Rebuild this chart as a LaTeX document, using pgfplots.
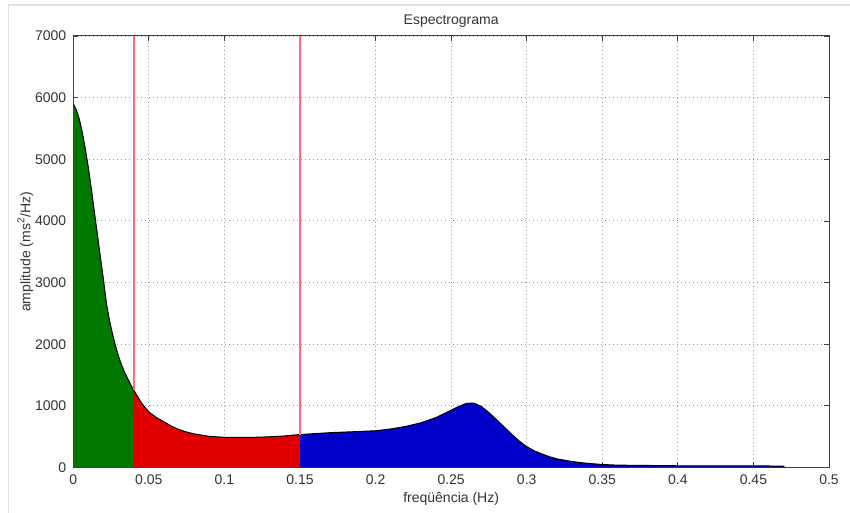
\documentclass[border=0pt]{standalone}
\usepackage{pgfplots}
\pgfplotsset{compat=1.18}
\usepackage{fontspec}
\setmainfont{Liberation Sans}
\definecolor{mgreen}{RGB}{0,120,0}
\definecolor{mred}{RGB}{224,0,0}
\definecolor{mblue}{RGB}{0,0,200}
\definecolor{bandline}{RGB}{255,110,110}
\definecolor{figframe}{RGB}{225,225,225}
\begin{document}
\begin{tikzpicture}
\useasboundingbox (-36.65pt,-22.75pt) rectangle (388.35pt,233.75pt);
\draw[figframe, line width=0.6pt] (-32.5pt,-22.75pt) -- (-32.5pt,231.25pt) -- (388.35pt,231.25pt);
\begin{axis}[
  at={(0,0)}, anchor=south west,
  scale only axis,
  width=377.85pt, height=215.75pt,
  xmin=0, xmax=0.5, ymin=0, ymax=7000,
  xtick={0,0.05,...,0.5}, ytick={0,1000,...,7000},
  xticklabels={0,0.05,0.1,0.15,0.2,0.25,0.3,0.35,0.4,0.45,0.5},
  scaled ticks=false,
  /pgf/number format/assume math mode=true,
  /pgf/number format/1000 sep={},
  tick align=inside, major tick length=2.5pt,
  tick style={black!75, line width=0.4pt},
  axis line style={black!75, line width=0.5pt},
  grid=major,
  major grid style={gray!80, dash pattern=on 0.5pt off 1.5pt, line width=0.45pt},
  font=\fontsize{7}{8}\selectfont,
  ticklabel style={font=\fontsize{7}{8}\selectfont, text=black!80},
  title={Espectrograma},
  title style={font=\fontsize{7}{8}\selectfont, yshift=-5pt, text=black!80},
  xlabel={freqüência (Hz)},
  ylabel={amplitude (ms\textsuperscript{2}/Hz)},
  xlabel style={font=\fontsize{7}{8}\selectfont, yshift=3pt, text=black!80},
  ylabel style={font=\fontsize{7}{8}\selectfont, yshift=-6pt, text=black!80},
  clip=true,
]
% green band
\addplot[fill=mgreen, draw=none] coordinates {
(0,5900) (0.002,5800) (0.004,5650) (0.006,5430) (0.008,5160) (0.010,4860)
(0.012,4510) (0.014,4140) (0.016,3770) (0.018,3400) (0.020,3040) (0.022,2650)
(0.024,2380) (0.026,2160) (0.028,1970) (0.030,1800) (0.032,1660) (0.034,1540)
(0.036,1440) (0.038,1340) (0.040,1256)
} \closedcycle;
% red band
\addplot[fill=mred, draw=none] coordinates {
(0.040,1256) (0.045,1050) (0.050,900) (0.055,810) (0.060,740) (0.065,670)
(0.070,615) (0.075,575) (0.080,545) (0.090,505) (0.100,490) (0.110,487)
(0.120,490) (0.130,498) (0.140,512) (0.150,535)
} \closedcycle;
% blue band
\addplot[fill=mblue, draw=none] coordinates {
(0.150,535) (0.160,550) (0.170,565) (0.180,575) (0.190,585) (0.200,596)
(0.210,625) (0.220,667) (0.230,725) (0.240,810) (0.250,930) (0.255,990)
(0.260,1040) (0.265,1045) (0.270,990) (0.275,890) (0.280,776) (0.285,660)
(0.290,540) (0.295,430) (0.300,339) (0.305,270) (0.310,220) (0.315,175)
(0.320,140) (0.330,97) (0.340,68) (0.350,49) (0.360,38) (0.380,33)
(0.400,28) (0.450,27) (0.470,22) (0.472,0)
} \closedcycle;
% outline
\addplot[black, line width=0.5pt] coordinates {
(0,5900) (0.002,5800) (0.004,5650) (0.006,5430) (0.008,5160) (0.010,4860)
(0.012,4510) (0.014,4140) (0.016,3770) (0.018,3400) (0.020,3040) (0.022,2650)
(0.024,2380) (0.026,2160) (0.028,1970) (0.030,1800) (0.032,1660) (0.034,1540)
(0.036,1440) (0.038,1340) (0.040,1256)
(0.045,1050) (0.050,900) (0.055,810) (0.060,740) (0.065,670)
(0.070,615) (0.075,575) (0.080,545) (0.090,505) (0.100,490) (0.110,487)
(0.120,490) (0.130,498) (0.140,512) (0.150,535)
(0.160,550) (0.170,565) (0.180,575) (0.190,585) (0.200,596)
(0.210,625) (0.220,667) (0.230,725) (0.240,810) (0.250,930) (0.255,990)
(0.260,1040) (0.265,1045) (0.270,990) (0.275,890) (0.280,776) (0.285,660)
(0.290,540) (0.295,430) (0.300,339) (0.305,270) (0.310,220) (0.315,175)
(0.320,140) (0.330,97) (0.340,68) (0.350,49) (0.360,38) (0.380,33)
(0.400,28) (0.450,27) (0.470,22)
};
% band limits
\addplot[draw=bandline, line width=0.9pt] coordinates {(0.0401,1250) (0.0401,7000)};
\addplot[draw=bandline, line width=0.9pt] coordinates {(0.15,535) (0.15,7000)};
\end{axis}
\end{tikzpicture}
\end{document}
